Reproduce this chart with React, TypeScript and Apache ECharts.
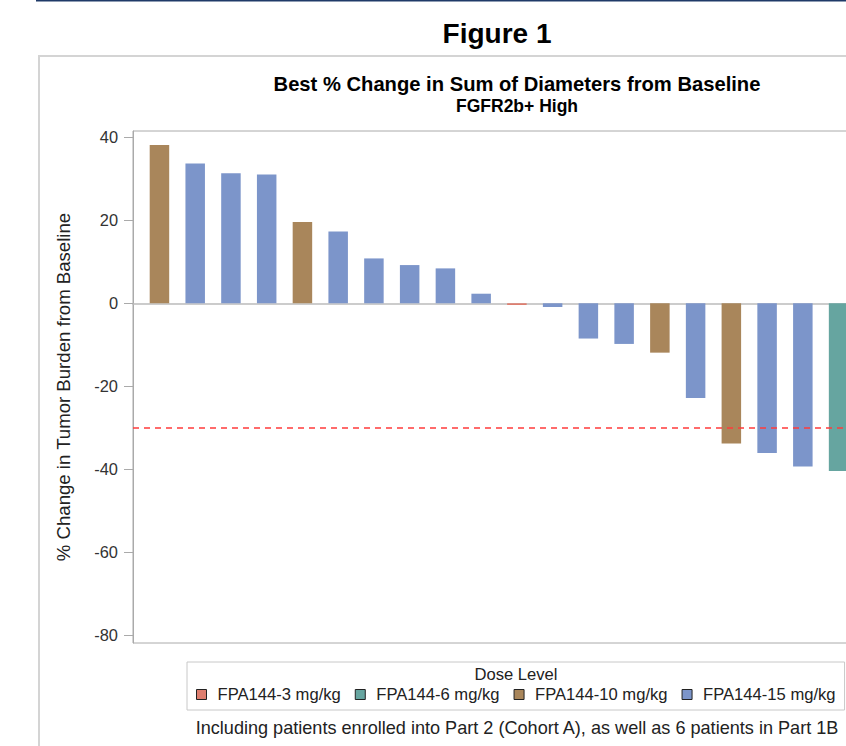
import React, { useEffect, useRef } from 'react';
import * as echarts from 'echarts';

// ---- data ----
const doseLevels = ['FPA144-3 mg/kg', 'FPA144-6 mg/kg', 'FPA144-10 mg/kg', 'FPA144-15 mg/kg'];
const doseColors = ['#DE7E6F', '#66A5A0', '#A9865B', '#7C95CA'];
// dose group (index into doseLevels) of each patient, sorted by best change
const patientDose = [2, 3, 3, 3, 2, 3, 3, 3, 3, 3, 0, 3, 3, 3, 2, 3, 2, 3, 3, 1];
const bestChange = [38.1, 33.7, 31.3, 31.0, 19.6, 17.3, 10.8, 9.2, 8.4, 2.3, -0.4, -0.9, -8.5, -9.8, -11.9, -22.8, -33.8, -36.1, -39.3, -40.4];
const yTicks = [-80, -60, -40, -20, 0, 20, 40];
const responseThreshold = -30;

const FONT = "'Liberation Sans', Arial, Helvetica, sans-serif";

export default function App() {
  const ref = useRef<HTMLDivElement>(null);

  useEffect(() => {
    if (!ref.current) return;
    const chart = echarts.init(ref.current, undefined, { renderer: 'svg' });

    const series: any[] = doseLevels.map((name, d) => ({
      name,
      type: 'bar',
      stack: 'patients',
      barWidth: 19.5,
      itemStyle: { color: doseColors[d] },
      data: bestChange.map((v, i) => [i, patientDose[i] === d ? v : '-']),
      ...(d === 3
        ? {
            markLine: {
              silent: true,
              symbol: 'none',
              label: { show: false },
              lineStyle: { color: '#ff3b3b', type: [6, 5], width: 1.5 },
              data: [{ yAxis: responseThreshold }],
            },
          }
        : {}),
    }));

    chart.setOption({
      animation: false,
      backgroundColor: '#ffffff',
      textStyle: { fontFamily: FONT },
      title: [
        { text: 'Figure 1', left: 497, top: 19, textAlign: 'center', padding: 0,
          textStyle: { fontSize: 28, fontWeight: 'bold', color: '#000', fontFamily: FONT } },
        { text: 'Best % Change in Sum of Diameters from Baseline', left: 517, top: 74, textAlign: 'center', padding: 0,
          textStyle: { fontSize: 20.2, fontWeight: 'bold', color: '#000', fontFamily: FONT } },
        { text: 'FGFR2b+ High', left: 517, top: 97, textAlign: 'center', padding: 0,
          textStyle: { fontSize: 17.5, fontWeight: 'bold', color: '#000', fontFamily: FONT } },
        { text: 'Dose Level', left: 516, top: 666, textAlign: 'center', padding: 0,
          textStyle: { fontSize: 16.6, fontWeight: 'normal', color: '#222', fontFamily: FONT } },
        { text: 'Including patients enrolled into Part 2 (Cohort A), as well as 6 patients in Part 1B', left: 517, top: 719, textAlign: 'center', padding: 0,
          textStyle: { fontSize: 18.1, fontWeight: 'normal', color: '#222', fontFamily: FONT } },
      ],
      graphic: [
        { type: 'rect', shape: { x: 36, y: 0, width: 1000, height: 1.5 }, style: { fill: '#1f3a68' } },
        { type: 'rect', shape: { x: 39, y: 56, width: 1000, height: 800 }, style: { fill: 'none', stroke: '#d4d4d4', lineWidth: 2 } },
      ],
      legend: {
        data: doseLevels,
        left: 187,
        top: 662,
        orient: 'horizontal',
        icon: 'rect',
        itemWidth: 10,
        itemHeight: 10,
        itemGap: 14,
        selectedMode: false,
        padding: [24, 9, 7, 9],
        borderColor: '#c8c8c8',
        borderWidth: 1,
        itemStyle: { borderColor: '#222', borderWidth: 1 },
        textStyle: { fontSize: 16.6, color: '#222', fontFamily: FONT, padding: [0, 0, 0, 6] },
      },
      grid: {
        left: 133,
        top: 131,
        width: 860,
        height: 512,
        show: true,
        borderColor: '#aaaaaa',
        borderWidth: 1,
        containLabel: false,
      },
      xAxis: {
        type: 'value',
        min: -0.74,
        max: 23.32,
        axisLine: { show: true, onZero: true, lineStyle: { color: '#bbbbbb', width: 1.7 } },
        axisTick: { show: false },
        axisLabel: { show: false },
        splitLine: { show: false },
      },
      yAxis: {
        type: 'value',
        min: -81.85,
        max: 41.5,
        name: '% Change in Tumor Burden from Baseline',
        nameLocation: 'middle',
        nameGap: 60,
        nameTextStyle: { fontSize: 18.6, color: '#222', fontFamily: FONT },
        axisLine: { show: true, onZero: false, lineStyle: { color: '#aaaaaa' } },
        axisTick: { show: true, length: 9, lineStyle: { color: '#aaaaaa' }, customValues: yTicks },
        axisLabel: { fontSize: 16.4, color: '#333', margin: 15, fontFamily: FONT, customValues: yTicks },
        splitLine: { show: false },
      },
      series,
    });

    return () => chart.dispose();
  }, []);

  return (
    <div style={{ position: 'fixed', left: 0, top: 0, width: 846, height: 746, overflow: 'hidden', background: '#fff' }}>
      <div ref={ref} style={{ width: 1000, height: 746 }} />
    </div>
  );
}
